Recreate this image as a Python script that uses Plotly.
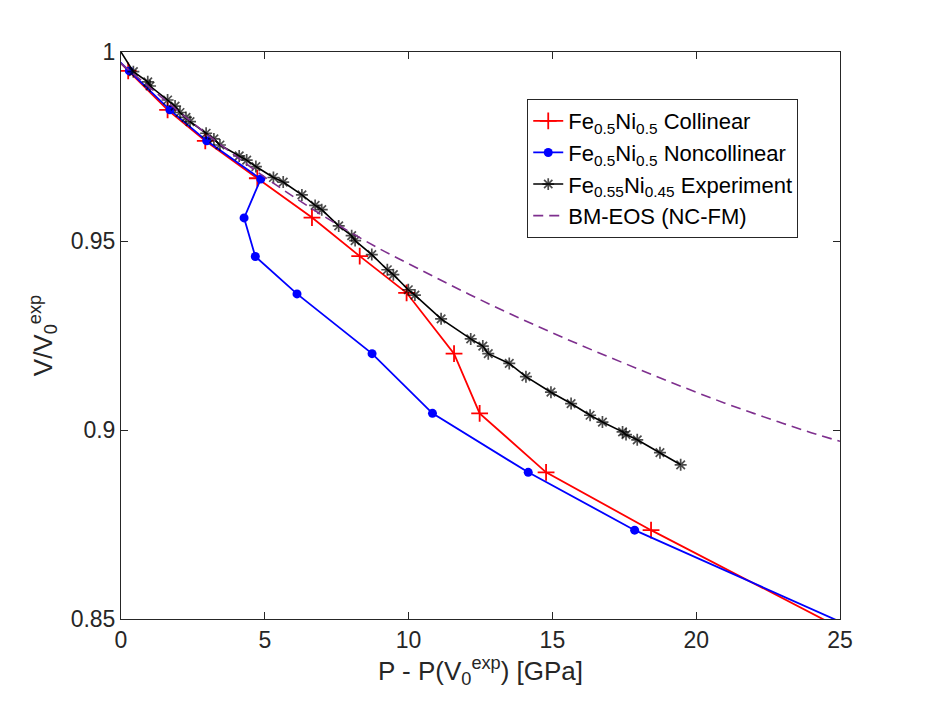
"""
V/V0 vs P - P(V0) for Fe-Ni: collinear / noncollinear calc vs experiment and BM-EOS fit.
"""

import plotly.graph_objects as go

# ---------- data ----------

# Fe0.5Ni0.5 collinear (first / last points sit outside the axis range and get clipped)
col_p = [-0.4, 0.25, 1.62, 2.93, 4.74, 6.64, 8.30, 9.93, 11.58, 12.47, 14.78, 18.43, 26.3]
col_v = [1.0, 0.9950, 0.9847, 0.9765, 0.9666, 0.9562, 0.9460, 0.9363, 0.9202, 0.9044,
         0.8888, 0.8735, 0.8425]

# Fe0.5Ni0.5 noncollinear
ncol_p = [-0.4, 0.29, 1.70, 2.98, 4.86, 4.28, 4.67, 6.12, 8.73, 10.83, 14.16, 17.86, 27.0]
ncol_v = [1.0, 0.9950, 0.9847, 0.9765, 0.9664, 0.9561, 0.9459, 0.9360, 0.9202, 0.9044,
          0.8888, 0.8735, 0.8425]

# Fe0.55Ni0.45 experiment
exp_p = [0.0, 0.43, 0.93, 1.01, 1.62, 1.88, 2.05, 2.26, 2.40, 2.96, 3.23, 3.44, 4.11, 4.37,
         4.69, 5.30, 5.64, 6.29, 6.75, 6.98, 7.57, 8.02, 8.14, 8.72, 9.26, 9.47, 9.99, 10.22,
         11.13, 12.16, 12.58, 12.77, 13.50, 14.08, 14.95, 15.65, 16.31, 16.74, 17.44, 17.56,
         17.95, 18.74, 19.46]
exp_v = [1.0, 0.9948, 0.9921, 0.9910, 0.9873, 0.9857, 0.9840, 0.9827, 0.9816, 0.9785, 0.9770,
         0.9754, 0.9725, 0.9714, 0.9697, 0.9668, 0.9656, 0.9622, 0.9594, 0.9583, 0.9540, 0.9514,
         0.9501, 0.9464, 0.9424, 0.9411, 0.9371, 0.9357, 0.9294, 0.9241, 0.9222, 0.9202, 0.9176,
         0.9141, 0.9100, 0.9070, 0.9039, 0.9021, 0.8995, 0.8988, 0.8974, 0.8940, 0.8908]

# BM-EOS (NC-FM) curve
bm_p = [0, 1, 2, 3, 4, 5, 6, 7, 8, 9, 10, 11, 12, 13, 14, 15, 16, 17, 18, 19, 20, 21, 22,
        23, 24, 25]
bm_v = [0.9970, 0.9906, 0.9843, 0.9782, 0.9724, 0.9669, 0.9617, 0.9568, 0.9522, 0.9479,
        0.9440, 0.9401, 0.9363, 0.9326, 0.9291, 0.9257, 0.9224, 0.9192, 0.9161, 0.9130,
        0.9100, 0.9071, 0.9044, 0.9018, 0.8993, 0.8970]

x_ticks = [0, 5, 10, 15, 20, 25]
y_ticks = [0.85, 0.9, 0.95, 1]
y_tick_text = ["0.85", "0.9", "0.95", "1"]

# ---------- figure ----------

FONT = "Liberation Sans, Arial, Helvetica, sans-serif"
AX = "#262626"

fig = go.Figure()

fig.add_trace(go.Scatter(
    x=col_p, y=col_v, mode="lines+markers",
    name="Fe<sub>0.5</sub>Ni<sub>0.5</sub> Collinear",
    line=dict(color="#ff0000", width=1.8),
    marker=dict(symbol="cross-thin-open", size=12, line=dict(color="#ff0000", width=1.8)),
))
fig.add_trace(go.Scatter(
    x=ncol_p, y=ncol_v, mode="lines+markers",
    name="Fe<sub>0.5</sub>Ni<sub>0.5</sub> Noncollinear",
    line=dict(color="#0000ff", width=1.8),
    marker=dict(symbol="circle", size=9, color="#0000ff"),
))
fig.add_trace(go.Scatter(
    x=exp_p, y=exp_v, mode="lines+markers",
    name="Fe<sub>0.55</sub>Ni<sub>0.45</sub> Experiment",
    line=dict(color="#000000", width=1.6),
    # no visible marker on the (0, 1) reference point
    marker=dict(symbol="asterisk-open", size=[0] + [10] * (len(exp_p) - 1),
                line=dict(color="#000000", width=1.7)),
))
fig.add_trace(go.Scatter(
    x=bm_p, y=bm_v, mode="lines",
    name="BM-EOS (NC-FM)",
    line=dict(color="#7e2f8e", width=1.6, dash="10px,6px", shape="spline"),
))

axis_common = dict(
    showgrid=False, zeroline=False,
    showline=True, mirror="ticks", linecolor=AX, linewidth=1,
    ticks="inside", ticklen=7, tickcolor=AX, tickwidth=1,
    tickfont=dict(family=FONT, size=23, color=AX),
)

fig.update_xaxes(
    range=[0, 25], tickvals=x_ticks,
    title=dict(text="P - P(V<sub>0</sub><sup>exp</sup>) [GPa]",
               font=dict(family=FONT, size=26, color=AX), standoff=8),
    **axis_common,
)
fig.update_yaxes(
    range=[0.85, 1], tickvals=y_ticks, ticktext=y_tick_text,
    title=dict(text="V/V<sub>0</sub><sup>exp</sup>",
               font=dict(family=FONT, size=26, color=AX), standoff=10),
    **axis_common,
)

# page body adds ~8px offset, so margins are pulled in to land the axes on the reference box
fig.update_layout(
    width=930, height=708,
    margin=dict(l=113, r=98, t=44, b=97),
    paper_bgcolor="white", plot_bgcolor="white",
    font=dict(family=FONT, color="#000000"),
    legend=dict(
        x=0.565, y=0.917, xanchor="left", yanchor="top",
        bgcolor="white", bordercolor=AX, borderwidth=1,
        font=dict(family=FONT, size=22, color="#000000"),
        tracegroupgap=0, itemwidth=30,
    ),
    showlegend=True,
)

fig.write_html("out.html")
